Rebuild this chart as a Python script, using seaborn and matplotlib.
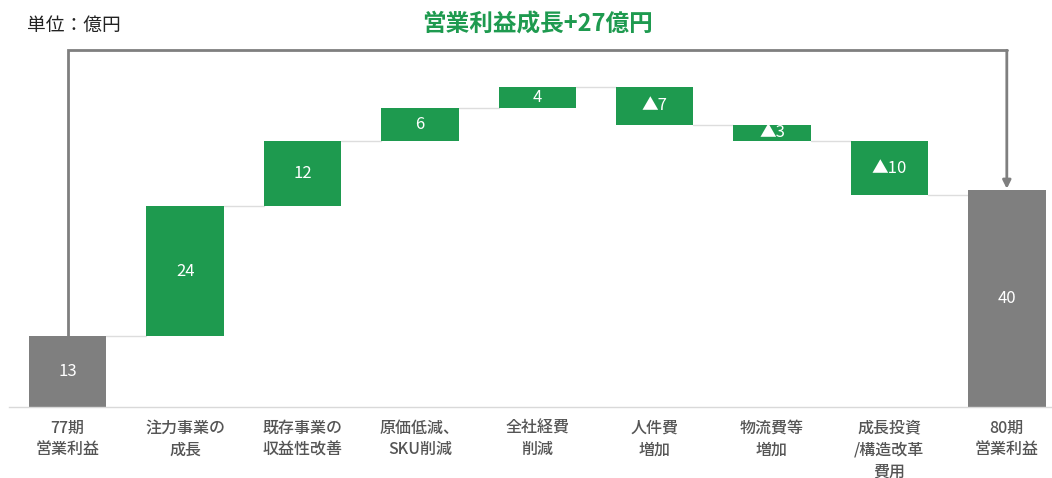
import numpy as np
import matplotlib
matplotlib.use("Agg")
import matplotlib.pyplot as plt
import seaborn as sns

categories = ["77期\n営業利益", "注力事業の\n成長", "既存事業の\n収益性改善", "原価低減、\nSKU削減",
              "全社経費\n削減", "人件費\n増加", "物流費等\n増加", "成長投資\n/構造改革\n費用", "80期\n営業利益"]
values = [13, 24, 12, 6, 4, -7, -3, -10, 40]
value_labels = ["13", "24", "12", "6", "4", "▲7", "▲3", "▲10", "40"]
is_total = [True, False, False, False, False, False, False, False, True]
title_text = "営業利益成長+27億円"
unit_text = "単位：億円"

GREEN = "#1E9A4F"
GRAY = "#7F7F7F"

sns.set_theme(style="white")
plt.rcParams['font.family'] = ['Noto Sans CJK JP', 'DejaVu Sans']

bottoms, heights = [], []
cum = 0
for v, t in zip(values, is_total):
    if t:
        bottoms.append(0)
        heights.append(v)
        cum = v
    else:
        bottoms.append(cum)
        heights.append(v)
        cum += v
ends = [b + h for b, h in zip(bottoms, heights)]

fig = plt.figure(figsize=(10.52, 4.78), dpi=100)
ax = fig.add_axes([9 / 1052, (478 - 407) / 478, 1 - 9 / 1052, (407 - 27) / 478])

x = list(range(len(categories)))
sns.barplot(x=x, y=heights, bottom=bottoms, ax=ax, width=0.66, color=GREEN,
            linewidth=0, saturation=1)
for p, t in zip(ax.patches, is_total):
    p.set_facecolor(GRAY if t else GREEN)
    p.set_edgecolor("none")

ax.set_xlim(-0.5, 8.385)
ax.set_ylim(0, 70)

w = 0.66
for i in range(len(values) - 1):
    ax.plot([i + w / 2, i + 1 - w / 2], [ends[i], ends[i]], color="#DDDDDD", lw=1, zorder=0)

for i, (b, h, lab) in enumerate(zip(bottoms, heights, value_labels)):
    ax.text(i, b + h / 2, lab, ha="center", va="center", color="white", fontsize=12)

ax.plot([0, 0, 8], [13, 65.7, 65.7], color=GRAY, lw=2, solid_joinstyle="miter", clip_on=False)
ax.annotate("", xy=(8, 40.2), xytext=(8, 65.7),
            arrowprops=dict(arrowstyle="-|>", color=GRAY, lw=2, mutation_scale=12,
                            shrinkA=0, shrinkB=0), annotation_clip=False)

sns.despine(ax=ax, left=True, top=True, right=True)
ax.spines["bottom"].set_color("#D9D9D9")
ax.spines["bottom"].set_linewidth(1)
ax.set_yticks([])
ax.set_xticks(x)
ax.set_xticklabels(categories, fontsize=11.5, color="#555555", linespacing=1.37,
                   fontweight="medium")
ax.tick_params(axis="x", length=0, pad=9)
ax.set_xlabel("")
ax.set_ylabel("")

fig.text(27 / 1052, 1 - 25 / 478, unit_text, ha="left", va="center", fontsize=13.5, color="#222222")
fig.text(537 / 1052, 1 - 25 / 478, title_text, ha="center", va="center", fontsize=17,
         fontweight="bold", color=GREEN)

fig.savefig("out.png", dpi=100)
